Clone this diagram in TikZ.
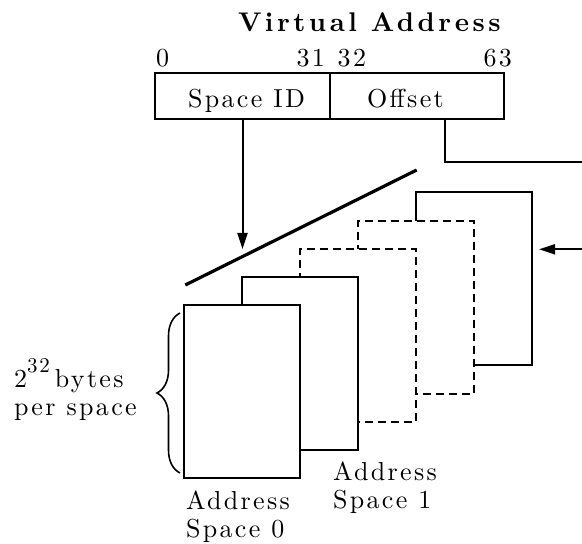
\documentclass[tikz,border=0pt]{standalone}
\usepackage{fontspec}
\setmainfont{lmroman10-regular}[Extension=.otf,BoldFont=lmroman10-bold,LetterSpace=9]
\usetikzlibrary{arrows.meta,decorations.pathreplacing}
\begin{document}
\begin{tikzpicture}[x=0.5pt,y=-0.5pt,line width=1pt,
  font=\fontsize{13}{14}\selectfont,
  space/.style={draw,fill=white,minimum width=58pt,minimum height=86.5pt,inner sep=0pt,outer sep=0pt,anchor=north west},
  hidden/.style={space,dash pattern=on 4pt off 2.5pt},
  cell/.style={draw,minimum height=23pt,inner sep=0pt,outer sep=0pt,anchor=north west,text height=11.7pt,text depth=0pt},
  lbl/.style={inner sep=0pt},
  tip/.style={-{Triangle[length=8pt,width=5pt]}}]
\useasboundingbox (0,0) rectangle (582,544);
% title and register
\node[lbl,anchor=base west,font=\fontsize{13.5}{14}\selectfont\bfseries\addfontfeatures{LetterSpace=13}] (title) at (237,31.7) {Virtual Address};
\node[cell,minimum width=87.5pt] (sid) at (155,73.3) {\hspace*{4pt}Space ID};
\node[cell,minimum width=87pt] (off) at (330,73.3) {\hspace*{-11.5pt}Offset};
\node[lbl,anchor=base west] (b0) at (155,67) {0};
\node[lbl,anchor=base east] (b31) at (326,67) {31};
\node[lbl,anchor=base west] (b32) at (336.7,67) {32};
\node[lbl,anchor=base east] (b63) at (513,67) {63};
% address spaces, back to front
\node[space] (as4) at (416,192) {};
\node[hidden] (as3) at (358,221) {};
\node[hidden] (as2) at (300,249) {};
\node[space] (as1) at (242,277) {};
\node[space] (as0) at (184,305) {};
% diagonal selector line
\coordinate (d0) at (185.3,285);
\coordinate (d1) at (416.7,170);
\draw[line width=1.6pt] (d0) -- (d1);
% connectors
\coordinate (sidtip) at (242.5,249);
\draw[tip] (sid.south) -- (sidtip);
\coordinate (offtap) at (444.7,119.3);
\coordinate (offout) at (582,162);
\draw (offtap) |- (offout);
\coordinate (inr) at (582,249.3);
\coordinate (intip) at (539,249.3);
\draw[tip] (inr) -- (intip);
% brace
\coordinate (br0) at (180,473);
\coordinate (br1) at (180,313);
\draw[line width=0.8pt,decorate,decoration={brace,amplitude=11.5pt}] (br0) -- (br1);
% labels
\node[lbl,anchor=north west,align=left] (bytes) at (13,358) {2\raisebox{7.5pt}{\fontsize{10.5}{10.5}\selectfont 32}\kern2.5pt bytes\\per space};
\node[lbl,anchor=north west,align=left] (as0lbl) at (185,490) {Address\\Space 0};
\node[lbl,anchor=north west,align=left] (as1lbl) at (332,461) {Address\\Space 1};
\end{tikzpicture}
\end{document}
